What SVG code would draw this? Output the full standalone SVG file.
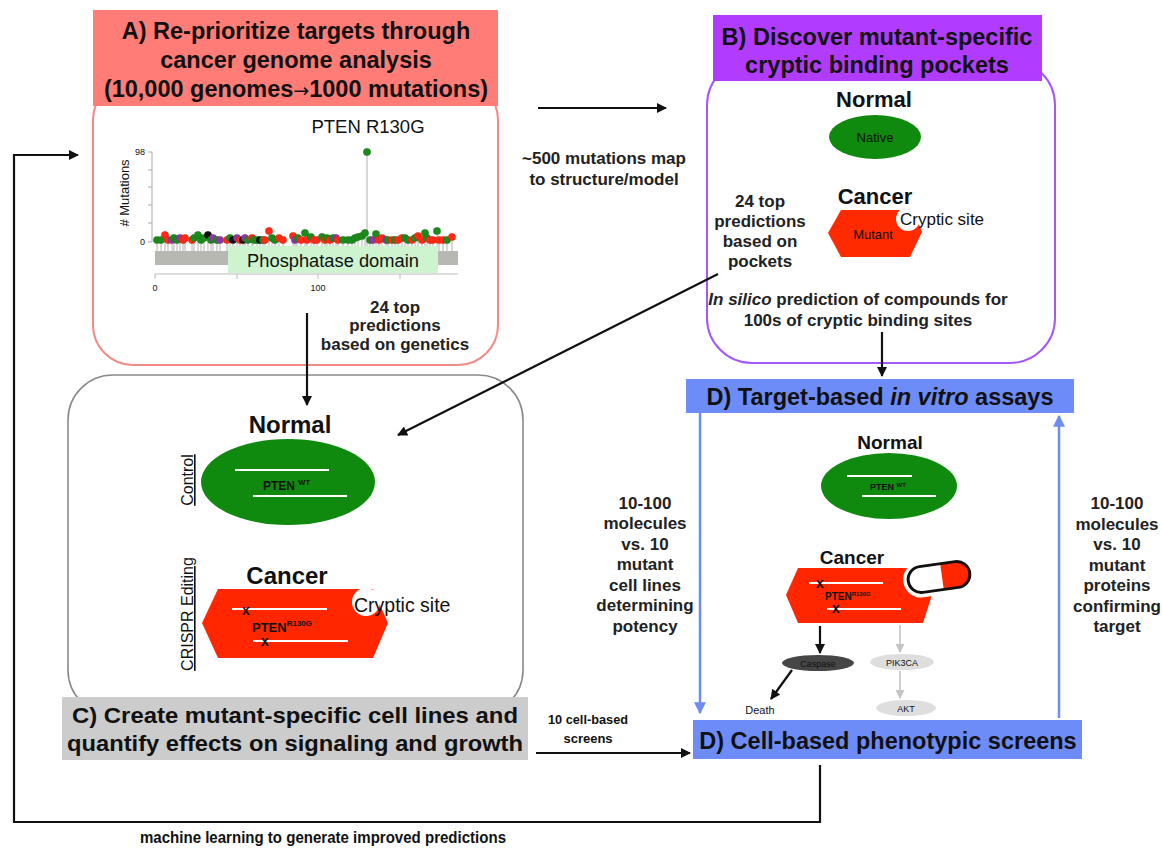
<svg xmlns="http://www.w3.org/2000/svg" width="1162" height="849" viewBox="0 0 1162 849">
  <style>
    text { font-family: "Liberation Sans", Arial, sans-serif; fill: #111; }
    .b { font-weight: bold; }
    .hdr { font-weight: bold; font-size: 23.5px; text-anchor: middle; }
    .lbl { font-weight: bold; font-size: 17px; text-anchor: middle; fill: #222; }
    .mid { text-anchor: middle; }
    .conn { fill: none; stroke: #111; stroke-width: 2.2; }
    .blue { fill: none; stroke: #6e8cf7; stroke-width: 2.5; }
    .g { fill: #1d8a1d; }
    .r { fill: #ff2a16; }
    .p { fill: #8a3a9e; }
    .k { fill: #111; }
    .wl { stroke: #fff; stroke-width: 2.2; }
    .x { font-weight: bold; font-size: 14px; text-anchor: middle; fill: #111; }
  </style>
  <defs>
    <marker id="ah" viewBox="0 0 10 10" refX="9" refY="5" markerWidth="11" markerHeight="10" markerUnits="userSpaceOnUse" orient="auto">
      <path d="M0,0 L10,5 L0,10 z" fill="#111"/>
    </marker>
    <marker id="ahb" viewBox="0 0 10 10" refX="9" refY="5" markerWidth="13" markerHeight="12" markerUnits="userSpaceOnUse" orient="auto">
      <path d="M0,0 L10,5 L0,10 z" fill="#6e8cf7"/>
    </marker>
    <marker id="ahg" viewBox="0 0 10 10" refX="9" refY="5" markerWidth="10" markerHeight="9" markerUnits="userSpaceOnUse" orient="auto">
      <path d="M0,0 L10,5 L0,10 z" fill="#c4c4c4"/>
    </marker>
    <clipPath id="pillClip">
      <rect x="-31" y="-13" width="62" height="26" rx="13"/>
    </clipPath>
  </defs>

  <rect width="1162" height="849" fill="#fff"/>

  <!-- Panel A: cancer genome analysis -->
  <g id="panelA">
    <rect x="93" y="80" width="405" height="285" rx="40" fill="#fff" stroke="#f28a86" stroke-width="2"/>
    <rect x="93" y="10" width="405" height="96" fill="#ff7c77"/>
    <text class="hdr" x="296" y="39">A) Re-prioritize targets through</text>
    <text class="hdr" x="296" y="68">cancer genome analysis</text>
    <text class="hdr" x="296" y="97">(10,000 genomes<tspan font-family="'DejaVu Sans', sans-serif" font-size="19" font-weight="normal">→</tspan>1000 mutations)</text>

    <!-- lollipop plot -->
    <g id="lollipop">
      <text x="0" y="0" font-size="13" fill="#888" text-anchor="middle" transform="translate(129 193) rotate(-90)"># Mutations</text>
      <path d="M152,152 V242 M148,152 H152 M148,170 H152 M148,187 H152 M148,205 H152 M148,223 H152 M148,242 H152" stroke="#aaa" stroke-width="1" fill="none"/>
      <text x="145" y="155" font-size="9" fill="#777" text-anchor="end">98</text>
      <text x="145" y="245" font-size="9" fill="#777" text-anchor="end">0</text>
      <rect x="155" y="251" width="303" height="14" fill="#b8b8b2"/>
      <path stroke="#c8c8c4" stroke-width="1.4" fill="none" d="M157,240V251 M161,240V251 M165,235V251 M168,240V251 M172,240V251 M174,240V251 M177,240V251 M180,240V251 M183,240V251 M185,240V251 M192,240V251 M194,240V251 M198,235V251 M201,240V251 M204,240V251 M208,235V251 M211,240V251 M213,240V251 M217,240V251 M220,240V251 M227,240V251 M230,240V251 M233,240V251 M237,240V251 M240,240V251 M243,240V251 M245,240V251 M248,240V251 M252,240V251 M253,240V251 M257,240V251 M260,240V251 M263,240V251 M265,240V251 M269,231V251 M272,240V251 M275,240V251 M279,240V251 M283,240V251 M293,240V251 M295,240V251 M297,240V251 M301,240V251 M305,233V251 M307,240V251 M311,240V251 M314,240V251 M317,240V251 M322,240V251 M325,240V251 M327,240V251 M330,240V251 M333,240V251 M336,240V251 M338,240V251 M343,240V251 M348,240V251 M352,240V251 M355,240V251 M358,240V251 M362,240V251 M365,233V251 M367,153V251 M370,240V251 M373,240V251 M376,234V251 M379,240V251 M382,240V251 M386,240V251 M388,240V251 M392,240V251 M395,240V251 M398,240V251 M402,240V251 M405,240V251 M408,240V251 M412,240V251 M415,240V251 M418,240V251 M422,240V251 M425,233V251 M427,240V251 M430,240V251 M433,240V251 M437,231V251 M439,240V251 M443,240V251 M447,240V251 M452,240V251"/>
      <rect x="228" y="246" width="210" height="27" fill="#cdf3cf"/>
      <text x="333" y="267" font-size="18.3" class="mid" fill="#222">Phosphatase domain</text>
      <path d="M155,274 H458 M155,274 V279 M237,274 V279 M318,274 V279 M400,274 V279" stroke="#bbb" stroke-width="1" fill="none"/>
      <text x="155" y="291" font-size="9" fill="#777" class="mid">0</text>
      <text x="318" y="291" font-size="9" fill="#777" class="mid">100</text>
      <g stroke="#000" stroke-opacity="0.15" stroke-width="0.5">
        <circle class="g" cx="157" cy="240" r="3.8"/><circle class="g" cx="161" cy="240" r="3.8"/>
        <circle class="r" cx="165" cy="235" r="3.8"/><circle class="r" cx="168" cy="240" r="3.8"/>
        <circle class="p" cx="172" cy="240" r="3.8"/><circle class="g" cx="174" cy="238" r="3.8"/>
        <circle class="g" cx="177" cy="240" r="3.8"/><circle class="p" cx="180" cy="238" r="3.8"/>
        <circle class="r" cx="183" cy="240" r="3.8"/><circle class="r" cx="185" cy="238" r="3.8"/>
        <circle class="r" cx="192" cy="240" r="3.8"/><circle class="g" cx="194" cy="238" r="3.8"/>
        <circle class="g" cx="198" cy="235" r="3.8"/><circle class="g" cx="201" cy="240" r="3.8"/>
        <circle class="g" cx="204" cy="238" r="3.8"/><circle class="k" cx="208" cy="235" r="3.8"/>
        <circle class="g" cx="211" cy="240" r="3.8"/><circle class="p" cx="213" cy="238" r="3.8"/>
        <circle class="g" cx="217" cy="240" r="3.8"/><circle class="p" cx="220" cy="240" r="3.8"/>
        <circle class="r" cx="227" cy="240" r="3.8"/><circle class="g" cx="230" cy="238" r="3.8"/>
        <circle class="k" cx="233" cy="240" r="3.8"/><circle class="p" cx="237" cy="238" r="3.8"/>
        <circle class="r" cx="240" cy="240" r="3.8"/><circle class="k" cx="243" cy="240" r="3.8"/>
        <circle class="p" cx="245" cy="238" r="3.8"/><circle class="g" cx="248" cy="240" r="3.8"/>
        <circle class="r" cx="252" cy="238" r="3.8"/><circle class="g" cx="254" cy="240" r="3.8"/>
        <circle class="g" cx="257" cy="240" r="3.8"/><circle class="k" cx="260" cy="240" r="3.8"/>
        <circle class="g" cx="263" cy="240" r="3.8"/><circle class="r" cx="265" cy="240" r="3.8"/>
        <circle class="r" cx="269" cy="231" r="3.8"/><circle class="g" cx="272" cy="238" r="3.8"/>
        <circle class="g" cx="275" cy="240" r="3.8"/><circle class="r" cx="279" cy="238" r="3.8"/>
        <circle class="r" cx="283" cy="240" r="3.8"/>
        <circle class="r" cx="293" cy="236" r="3.8"/><circle class="p" cx="295" cy="240" r="3.8"/>
        <circle class="g" cx="298" cy="238" r="3.8"/><circle class="r" cx="301" cy="240" r="3.8"/>
        <circle class="g" cx="305" cy="233" r="3.8"/><circle class="r" cx="307" cy="240" r="3.8"/>
        <circle class="g" cx="311" cy="237" r="3.8"/><circle class="r" cx="314" cy="240" r="3.8"/>
        <circle class="r" cx="317" cy="240" r="3.8"/><circle class="g" cx="322" cy="237" r="3.8"/>
        <circle class="r" cx="325" cy="240" r="3.8"/><circle class="g" cx="327" cy="238" r="3.8"/>
        <circle class="r" cx="330" cy="240" r="3.8"/><circle class="g" cx="333" cy="238" r="3.8"/>
        <circle class="p" cx="336" cy="238" r="3.8"/><circle class="r" cx="338" cy="240" r="3.8"/>
        <circle class="g" cx="343" cy="240" r="3.8"/><circle class="g" cx="348" cy="240" r="3.8"/>
        <circle class="g" cx="352" cy="240" r="3.8"/><circle class="g" cx="355" cy="238" r="3.8"/>
        <circle class="g" cx="358" cy="237" r="3.8"/><circle class="g" cx="362" cy="236" r="3.8"/>
        <circle class="g" cx="365" cy="233" r="3.8"/><circle class="g" cx="370" cy="240" r="3.8"/>
        <circle class="p" cx="373" cy="240" r="3.8"/><circle class="g" cx="376" cy="234" r="3.8"/>
        <circle class="r" cx="379" cy="240" r="3.8"/><circle class="r" cx="382" cy="238" r="3.8"/>
        <circle class="p" cx="386" cy="240" r="3.8"/><circle class="g" cx="388" cy="240" r="3.8"/>
        <circle class="r" cx="392" cy="240" r="3.8"/><circle class="g" cx="395" cy="240" r="3.8"/>
        <circle class="r" cx="398" cy="240" r="3.8"/><circle class="r" cx="402" cy="238" r="3.8"/>
        <circle class="g" cx="405" cy="238" r="3.8"/><circle class="g" cx="408" cy="240" r="3.8"/>
        <circle class="r" cx="412" cy="240" r="3.8"/><circle class="g" cx="415" cy="238" r="3.8"/>
        <circle class="r" cx="418" cy="236" r="3.8"/><circle class="r" cx="422" cy="240" r="3.8"/>
        <circle class="g" cx="425" cy="233" r="3.8"/><circle class="g" cx="427" cy="238" r="3.8"/>
        <circle class="r" cx="430" cy="240" r="3.8"/><circle class="r" cx="433" cy="240" r="3.8"/>
        <circle class="g" cx="437" cy="231" r="3.8"/><circle class="r" cx="439" cy="240" r="3.8"/>
        <circle class="r" cx="443" cy="240" r="3.8"/><circle class="g" cx="447" cy="240" r="3.8"/>
        <circle class="r" cx="452" cy="237" r="3.8"/>
        <circle class="g" cx="367" cy="152" r="3.8"/>
      </g>
      <text x="368" y="133" font-size="18.5" class="mid" fill="#222">PTEN R130G</text>
    </g>
    <text class="lbl" x="395" y="313">24 top</text>
    <text class="lbl" x="395" y="331">predictions</text>
    <text class="lbl" x="395" y="350">based on genetics</text>
  </g>

  <!-- Panel B: cryptic binding pockets -->
  <g id="panelB">
    <rect x="707" y="60" width="348" height="303" rx="45" fill="#fff" stroke="#a458fa" stroke-width="2"/>
    <rect x="713" y="15" width="329" height="66" fill="#b13cff"/>
    <text class="hdr" x="877" y="45">B) Discover mutant-specific</text>
    <text class="hdr" x="877" y="73">cryptic binding pockets</text>
    <text class="b mid" x="874" y="107" font-size="22">Normal</text>
    <ellipse cx="875" cy="137" rx="46" ry="22" fill="#0f8a0f"/>
    <text class="mid" x="875" y="142" font-size="13" fill="#d8f0d8">Native</text>
    <text class="b mid" x="875" y="204" font-size="22">Cancer</text>
    <path d="M828,233 L841,210 L913,210 L922,232 L910,257 L841,257 Z" fill="#ff2a00"/>
    <circle cx="908" cy="219" r="12" fill="#fff"/>
    <text x="900" y="225" font-size="17" fill="#333">Cryptic site</text>
    <text class="mid" x="873" y="239" font-size="13" fill="#ffd8d0">Mutant</text>
    <text class="lbl" x="760" y="207" font-size="16">24 top</text>
    <text class="lbl" x="760" y="227" font-size="16">predictions</text>
    <text class="lbl" x="760" y="247" font-size="16">based on</text>
    <text class="lbl" x="760" y="267" font-size="16">pockets</text>
    <text class="lbl" x="858" y="305"><tspan font-style="italic">In silico</tspan> prediction of compounds for</text>
    <text class="lbl" x="858" y="326">100s of cryptic binding sites</text>
  </g>

  <!-- Panel C: mutant-specific cell lines -->
  <g id="panelC">
    <rect x="68" y="375" width="455" height="340" rx="45" fill="#fff" stroke="#8a8a8a" stroke-width="1.6"/>
    <text class="b mid" x="290" y="433" font-size="24">Normal</text>
    <ellipse cx="288" cy="482" rx="87" ry="43" fill="#0f8a0f"/>
    <line class="wl" x1="235" y1="470" x2="329" y2="470"/>
    <line class="wl" x1="253" y1="496" x2="347" y2="496"/>
    <text class="b" x="263" y="490" font-size="12">PTEN <tspan font-size="7.5" dy="-5">WT</tspan></text>
    <text x="0" y="0" font-size="16" fill="#333" text-decoration="underline" transform="translate(193 480) rotate(-90)" class="mid">Control</text>
    <text x="0" y="0" font-size="16" fill="#333" text-decoration="underline" transform="translate(193 614) rotate(-90)" class="mid">CRISPR Editing</text>
    <text class="b mid" x="287" y="584" font-size="24">Cancer</text>
    <path d="M202,623 L218,589 L373,589 L388,623 L373,658 L218,658 Z" fill="#ff2600"/>
    <circle cx="366" cy="602" r="14" fill="#fff"/>
    <text x="354" y="612" font-size="19.5" fill="#222">Cryptic site</text>
    <line class="wl" x1="232" y1="609" x2="327" y2="609"/>
    <line class="wl" x1="253" y1="641" x2="348" y2="641"/>
    <text class="x" x="246" y="615">x</text>
    <text class="x" x="265" y="646">x</text>
    <text class="b" x="252" y="632" font-size="13">PTEN<tspan font-size="8" dy="-6">R130G</tspan></text>
    <rect x="62" y="697" width="466" height="63" fill="#cccccc"/>
    <text class="b mid" x="295" y="723" font-size="22" textLength="446" lengthAdjust="spacingAndGlyphs">C) Create mutant-specific cell lines and</text>
    <text class="b mid" x="295" y="751" font-size="22" textLength="456" lengthAdjust="spacingAndGlyphs">quantify effects on signaling and growth</text>
  </g>

  <!-- Panel D: in vitro assays and cell-based screens -->
  <g id="panelD">
    <rect x="686" y="379" width="388" height="34" fill="#6e8cf7"/>
    <text class="hdr" x="880" y="405">D) Target-based <tspan font-style="italic">in vitro</tspan> assays</text>
    <text class="b mid" x="890" y="449" font-size="19">Normal</text>
    <ellipse cx="889" cy="486" rx="68" ry="33" fill="#0f8a0f"/>
    <line class="wl" x1="847" y1="476" x2="912" y2="476" stroke-width="1.8"/>
    <line class="wl" x1="862" y1="496" x2="936" y2="496" stroke-width="1.8"/>
    <text class="b" x="870" y="490" font-size="9">PTEN <tspan font-size="6" dy="-3">WT</tspan></text>
    <text class="b mid" x="852" y="564" font-size="19">Cancer</text>
    <path d="M786,595 L798,568 L923,568 L932,595 L923,623 L798,623 Z" fill="#ff2600"/>
    <line class="wl" x1="809" y1="583" x2="883" y2="583" stroke-width="1.8"/>
    <line class="wl" x1="827" y1="609" x2="901" y2="609" stroke-width="1.8"/>
    <text class="x" x="820" y="588" font-size="11">x</text>
    <text class="x" x="836" y="613" font-size="11">x</text>
    <text class="b" x="825" y="600" font-size="10">PTEN<tspan font-size="6" dy="-4">R130G</tspan></text>
    <!-- drug capsule -->
    <g transform="translate(939 577) rotate(-8)">
      <rect x="-33" y="-15" width="66" height="30" rx="15" fill="#fff" stroke="#fff" stroke-width="6"/>
      <g clip-path="url(#pillClip)">
        <rect x="-31" y="-13" width="62" height="26" fill="#fff"/>
        <rect x="3" y="-13" width="30" height="26" fill="#ff2600"/>
      </g>
      <rect x="-31" y="-13" width="62" height="26" rx="13" fill="none" stroke="#111" stroke-width="3"/>
    </g>
    <!-- signalling -->
    <line x1="820" y1="626" x2="820" y2="653" class="conn" stroke-width="1.6" marker-end="url(#ah)"/>
    <ellipse cx="818" cy="663" rx="36" ry="8" fill="#464646"/>
    <text class="mid" x="818" y="667" font-size="9" fill="#eee">Caspase</text>
    <line x1="792" y1="670" x2="771" y2="699" class="conn" stroke-width="1.6" marker-end="url(#ah)"/>
    <text class="mid" x="760" y="714" font-size="11" fill="#333">Death</text>
    <line x1="900" y1="625" x2="900" y2="652" stroke="#c4c4c4" stroke-width="1.6" marker-end="url(#ahg)"/>
    <ellipse cx="902" cy="662" rx="32" ry="8" fill="#dedede"/>
    <text class="mid" x="902" y="666" font-size="9" fill="#fff">PIK3CA</text>
    <line x1="900" y1="671" x2="900" y2="698" stroke="#c4c4c4" stroke-width="1.6" marker-end="url(#ahg)"/>
    <ellipse cx="906" cy="708" rx="30" ry="8" fill="#dedede"/>
    <text class="mid" x="906" y="712" font-size="9" fill="#fff">AKT</text>
    <rect x="693" y="720" width="389" height="39" fill="#6e8cf7"/>
    <text class="hdr" x="888" y="749">D) Cell-based phenotypic screens</text>
  </g>

  <!-- Connectors and their labels -->
  <g id="connectors">
    <line class="conn" x1="538" y1="108" x2="666" y2="108" marker-end="url(#ah)"/>
    <text class="lbl" x="604" y="164" font-size="15.5">~500 mutations map</text>
    <text class="lbl" x="604" y="185" font-size="15.5">to structure/model</text>
    <line class="conn" x1="307" y1="313" x2="307" y2="405" marker-end="url(#ah)"/>
    <line class="conn" x1="718" y1="274" x2="398" y2="435" marker-end="url(#ah)"/>
    <line class="conn" x1="882" y1="332" x2="882" y2="376" marker-end="url(#ah)"/>
    <line class="blue" x1="700" y1="413" x2="700" y2="713" marker-end="url(#ahb)"/>
    <line class="blue" x1="1059" y1="718" x2="1059" y2="416" marker-end="url(#ahb)"/>
    <g>
      <text class="lbl" x="645" y="509">10-100</text>
      <text class="lbl" x="645" y="529">molecules</text>
      <text class="lbl" x="645" y="550">vs. 10</text>
      <text class="lbl" x="645" y="570">mutant</text>
      <text class="lbl" x="645" y="591">cell lines</text>
      <text class="lbl" x="645" y="611">determining</text>
      <text class="lbl" x="645" y="632">potency</text>
    </g>
    <g>
      <text class="lbl" x="1117" y="509">10-100</text>
      <text class="lbl" x="1117" y="530">molecules</text>
      <text class="lbl" x="1117" y="550">vs. 10</text>
      <text class="lbl" x="1117" y="571">mutant</text>
      <text class="lbl" x="1117" y="591">proteins</text>
      <text class="lbl" x="1117" y="612">confirming</text>
      <text class="lbl" x="1117" y="632">target</text>
    </g>
    <text class="b mid" x="588" y="724" font-size="13" textLength="80" lengthAdjust="spacingAndGlyphs">10 cell-based</text>
    <text class="b mid" x="588" y="743" font-size="13">screens</text>
    <line class="conn" x1="536" y1="753" x2="690" y2="753" marker-end="url(#ah)"/>
    <polyline class="conn" points="820,765 820,822 14,822 14,155 78,155" marker-end="url(#ah)"/>
    <text class="b mid" x="323" y="843" font-size="17" textLength="366" lengthAdjust="spacingAndGlyphs">machine learning to generate improved predictions</text>
  </g>
</svg>
